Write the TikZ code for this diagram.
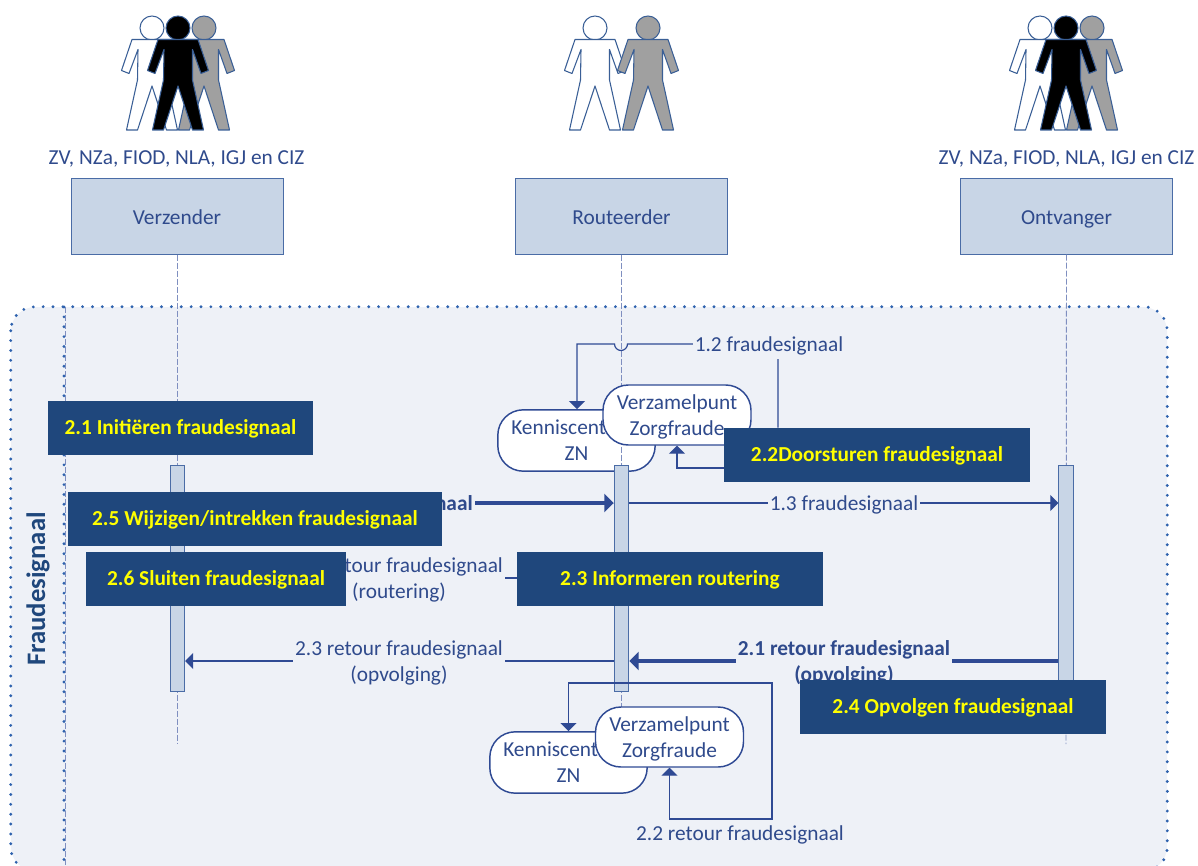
\documentclass[tikz,border=0pt]{standalone}
\usepackage{fontspec}
\setmainfont{Carlito}
\usetikzlibrary{arrows.meta,calc}
\definecolor{ink}{HTML}{2F4A94}
\definecolor{txt}{HTML}{2F4A8C}
\definecolor{boxfill}{HTML}{C8D5E6}
\definecolor{boxline}{HTML}{4A6CA6}
\definecolor{panel}{HTML}{EEF1F7}
\definecolor{dotc}{HTML}{2E62AE}
\definecolor{navy}{HTML}{1F477C}
\definecolor{signal}{HTML}{FFFF00}
\definecolor{life}{HTML}{7F8FC0}
\definecolor{persline}{HTML}{3A5F96}
\definecolor{persgray}{HTML}{A0A0A0}
\tikzset{
  x=0.75pt,y=-0.75pt,
  lbl/.style={font=\fontsize{16pt}{19.5pt}\selectfont,text=txt,align=center,inner sep=0pt},
  lblbg/.style={lbl,fill=panel,inner xsep=1.5pt,inner ysep=1pt},
  lblbold/.style={lblbg,font=\fontsize{16pt}{19.5pt}\selectfont\bfseries},
  actor/.style={draw=boxline,fill=boxfill,line width=0.7pt,minimum width=159pt,minimum height=56.5pt,lbl,text height=14pt,text depth=2pt},
  activ/.style={draw=boxline,fill=boxfill,line width=0.6pt,minimum width=11pt,minimum height=169.5pt,inner sep=0pt},
  lifeline/.style={draw=life,line width=0.7pt,dash pattern=on 4.5pt off 1.5pt},
  roundbox/.style={draw=ink,fill=white,line width=1.1pt,rounded corners=19pt,lbl},
  kennis/.style={roundbox,minimum width=118pt,minimum height=46pt},
  verzamel/.style={roundbox,minimum width=111pt,minimum height=45pt},
  taskbox/.style={fill=navy,text=signal,font=\fontsize{16pt}{19pt}\selectfont\bfseries,inner sep=0pt,minimum height=40.5pt,text height=12pt,text depth=2pt},
  conn/.style={draw=ink,line width=0.9pt,-{Triangle[length=6pt,width=12pt]}},
  connboth/.style={draw=ink,line width=0.85pt,{Triangle[length=6pt,width=12pt]}-{Triangle[length=6pt,width=12pt]}},
  connbold/.style={draw=ink,line width=2.4pt,-{Triangle[length=7pt,width=13.5pt]}},
  persona/.style={draw=persline,line width=0.8pt,line join=round},
}
\newcommand{\onefigure}[2]{% x-centre, fill
  \begin{scope}[shift={(#1,0)}]
    \path[persona,fill=#2] (0,28) circle[radius=12];
    \path[persona,fill=#2]
      (-20,39.5) -- (20,39.5) -- (30.5,70.5) -- (23,73.5) -- (14.5,49.5) -- (14.5,80)
      -- (25.5,130) -- (14.5,130) -- (0,86) -- (-14.5,130) -- (-25.5,130) -- (-14.5,80)
      -- (-14,49.5) -- (-23,73.5) -- (-30.5,70.5) -- cycle;
  \end{scope}
}
\begin{document}
\begin{tikzpicture}
\useasboundingbox (0,0) rectangle (1198,866);
\clip (0,0) rectangle (1198,866);

% panel
\node[fill=panel,rounded corners=18pt,minimum width=867pt,minimum height=423pt,inner sep=0pt] (panelbg) at (589,589) {};
\draw[draw=dotc,line width=2.4pt,line cap=round,dash pattern=on 0pt off 7.4pt,rounded corners=18pt]
  (panelbg.north west) rectangle (panelbg.south east);
\coordinate (swimtop) at (64,307);
\coordinate (swimbot) at (64,866);
\draw[draw=dotc,line width=2.4pt,line cap=round,dash pattern=on 0pt off 7.4pt] (swimtop) -- (swimbot);
\draw[lifeline] ($(swimtop)+(1,0)$) -- ($(swimbot)+(1,0)$);
\node[rotate=90,font=\fontsize{20pt}{24pt}\selectfont\bfseries,text=navy,inner sep=0pt] (fs) at (38,589) {Fraudesignaal};

% people
\onefigure{152}{white}
\onefigure{204}{persgray}
\onefigure{178}{black}
\onefigure{595}{white}
\onefigure{648}{persgray}
\onefigure{1040}{white}
\onefigure{1092}{persgray}
\onefigure{1066}{black}
\node[lbl] (cap1) at (176.5,159) {ZV, NZa, FIOD, NLA, IGJ en CIZ};
\node[lbl] (cap3) at (1066.5,159) {ZV, NZa, FIOD, NLA, IGJ en CIZ};

% actors
\node[actor] (verz) at (177,216.5) {Verzender};
\node[actor] (rout) at (621.5,216.5) {Routeerder};
\node[actor] (ontv) at (1066.5,216.5) {Ontvanger};

% upper and lower rounded nodes below the lifelines
\node[kennis] (ken1) at (576.5,440.5) {Kenniscentrum\\ZN};
\node[kennis] (ken2) at (568.5,762.5) {Kenniscentrum\\ZN};

% lifelines
\coordinate (end1) at (177,744);
\coordinate (end2) at (621.5,744);
\coordinate (end3) at (1066,744);
\draw[lifeline] (verz.south) -- (end1);
\draw[lifeline] (rout.south) -- (end2);
\draw[lifeline] (ontv.south) -- (end3);

% activations
\node[activ] (act1) at (177.5,578) {};
\node[activ] (act2) at (621.5,578) {};
\node[activ] (act3) at (1066,578) {};

% rounded nodes on top
\node[verzamel] (ver1) at (677,415) {\rule{0pt}{14.5pt}Verzamelpunt\\Zorgfraude};
\node[verzamel] (ver2) at (669.5,737) {\rule{0pt}{14.5pt}Verzamelpunt\\Zorgfraude};

% task boxes
\node[taskbox,minimum width=198.75pt] (t21) at (180.5,428) {2.1 Initiëren fraudesignaal};
\node[taskbox,minimum width=229.5pt] (t22) at (877,455) {2.2Doorsturen fraudesignaal};

% connectors: top
\coordinate (c12a) at (778,344);
\coordinate (c12b) at (577,344);
\draw[conn] (t22.north -| c12a) -- (c12a) -- (627.5,344) arc[start angle=0,end angle=180,radius=6.5] -- (c12b) -- (c12b |- ken1.north);
\node[lblbg,inner ysep=3pt] (l12) at (769,346) {1.2 fraudesignaal};
\coordinate (c22a) at (677,468);
\draw[conn] (t22.west |- c22a) -- (c22a) -- (c22a |- ver1.south);

% signal messages
\coordinate (y15) at (0,503);
\draw[connbold] (act1.east |- y15) -- (act2.west |- y15);
\node[lblbold,anchor=east] (l11) at (475,505) {1.1 fraudesignaal};
\draw[conn] (act2.east |- y15) -- (act3.west |- y15);
\node[lblbg] (l13) at (844,505) {1.3 fraudesignaal};

\coordinate (y23a) at (0,578);
\draw[conn] (act2.west |- y23a) -- (act1.east |- y23a);
\node[lblbg] (l23a) at (399,580) {2.3 retour fraudesignaal\\(routering)};

\coordinate (y23b) at (0,661);
\draw[conn] (act2.west |- y23b) -- (act1.east |- y23b);
\node[lblbg] (l23b) at (399,663) {2.3 retour fraudesignaal\\(opvolging)};

\draw[connbold] (act3.west |- y23b) -- (act2.east |- y23b);
\node[lblbold] (l21) at (844,663) {2.1 retour fraudesignaal\\(opvolging)};

% lower loop
\coordinate (c1) at (772,683);
\coordinate (c2) at (772,819);
\draw[connboth] (ken2.north) -- (ken2.north |- c1) -- (c1) -- (c2) -- (ver2.south |- c2) -- (ver2.south);
\node[lbl] (l22) at (740,835) {2.2 retour fraudesignaal};

% task boxes on top
\node[taskbox,minimum width=280.5pt] (t25) at (255,519) {2.5 Wijzigen/intrekken fraudesignaal};
\node[taskbox,minimum width=195pt] (t26) at (216,579) {2.6 Sluiten fraudesignaal};
\node[taskbox,minimum width=229.5pt] (t23) at (670,579) {2.3 Informeren routering};
\node[taskbox,minimum width=229.5pt] (t24) at (953,707) {2.4 Opvolgen fraudesignaal};
\end{tikzpicture}
\end{document}
